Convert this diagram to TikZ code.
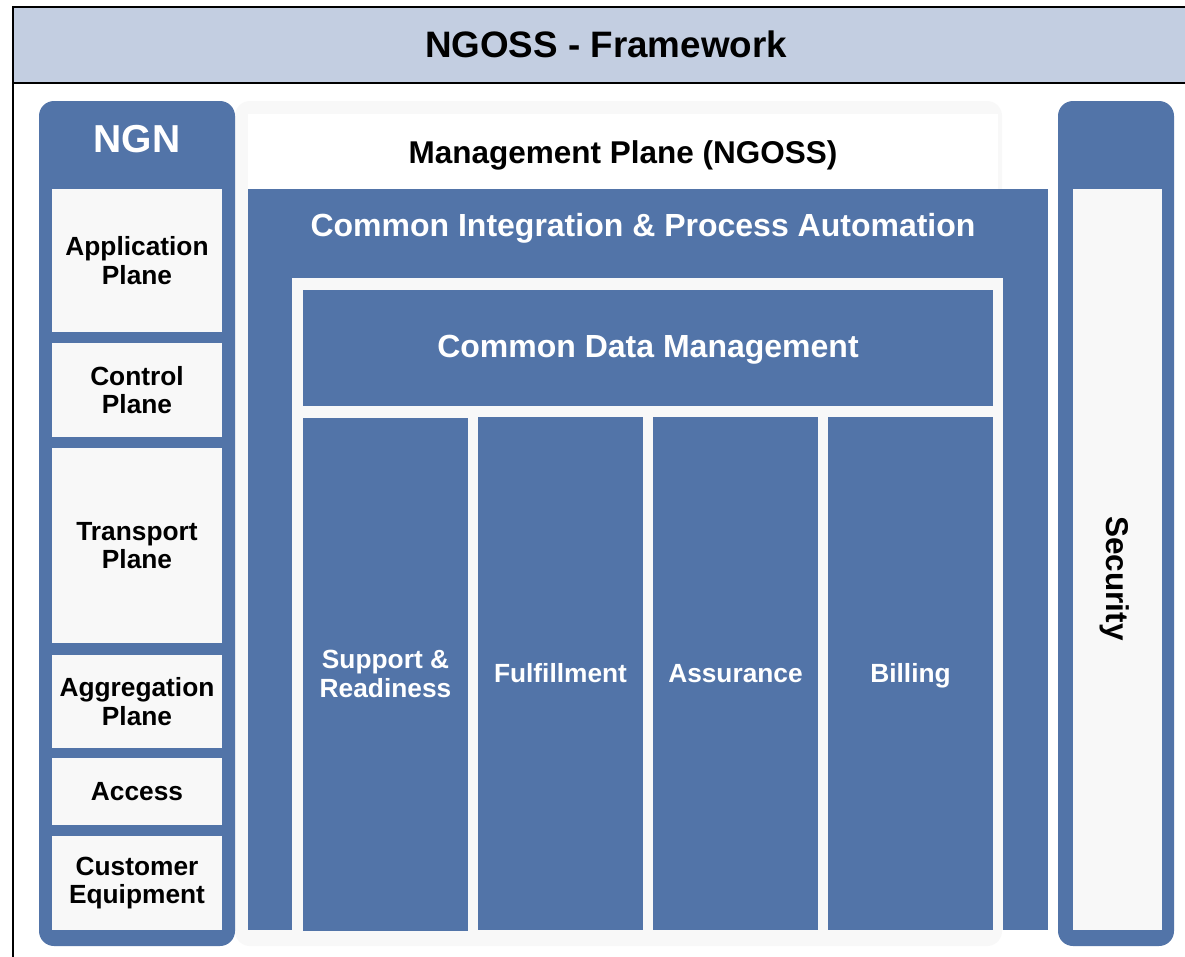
\documentclass[tikz,border=0pt]{standalone}
\usepackage{fontspec}
\setmainfont{Liberation Sans}
\definecolor{ngblue}{RGB}{82,116,168}
\definecolor{nghead}{RGB}{195,206,225}
\definecolor{nggray}{RGB}{248,248,248}
\tikzset{
  fs/.style={font=\fontsize{#1}{28.5}\selectfont\bfseries},
  bluebox/.style={fill=ngblue, draw=none, inner sep=0pt, text=white, align=center},
  graybox/.style={fill=nggray, draw=none, inner sep=0pt, text=black, align=center},
  roundblue/.style={fill=ngblue, draw=none, inner sep=0pt, rounded corners=15pt},
  lbl/.style={inner sep=0pt, align=center},
}
\begin{document}
\begin{tikzpicture}[x=1pt,y=-1pt]
\useasboundingbox (0,0) rectangle (1185,956);
\fill[white] (0,0) rectangle (1185,956);
% frame and header
\node[draw=black, line width=2pt, fill=white, inner sep=0pt, minimum width=1200pt, minimum height=1000pt, anchor=north west] (frame) at (12,6) {};
\node[draw=black, line width=2pt, fill=nghead, inner sep=0pt, minimum width=1200pt, minimum height=76pt, anchor=north west] (header) at (12,6) {};
\node[lbl, fs=36.8] (title) at (606,44) {NGOSS - Framework};
% management background
\node[graybox, rounded corners=15pt, minimum width=767pt, minimum height=845pt] (mgmtbg) at (618.5,523.5) {};
\node[fill=white, inner sep=0pt, minimum width=750pt, minimum height=75pt] (mgmtwhite) at (623,151.5) {};
\node[lbl, fs=31.5] (mgmt) at (623,155) {Management Plane (NGOSS)};
% common integration
\node[bluebox, minimum width=800pt, minimum height=741pt] (cipa) at (648,559.5) {};
\node[lbl, fs=32, text=white] (cipatext) at (643,228) {Common Integration \& Process Automation};
\node[graybox, minimum width=711pt, minimum height=652pt] (inner) at (647.5,604) {};
\node[bluebox, minimum width=690pt, minimum height=116pt] (cdm) at (648,348) {};
\node[lbl, fs=32, text=white] (cdmtext) at (648,349.5) {Common Data Management};
\node[bluebox, fs=26.3, minimum width=165pt, minimum height=513pt] (sr) at (385.5,674) {Support \&\\Readiness};
\node[bluebox, fs=26.3, minimum width=165pt, minimum height=513pt] (ful) at (560.5,673.5) {Fulfillment};
\node[bluebox, fs=26.3, minimum width=165pt, minimum height=513pt] (ass) at (735.5,673.5) {Assurance};
\node[bluebox, minimum width=165pt, minimum height=513pt] (bil) at (910.5,673.5) {};
\node[lbl, fs=26.3, text=white] (biltext) at (910.5,676) {Billing};
% NGN column
\node[roundblue, minimum width=196pt, minimum height=845pt] (ngn) at (137,523.5) {};
\node[lbl, fs=39, text=white] (ngntext) at (137,139) {NGN};
\node[graybox, fs=26.3, minimum width=170pt, minimum height=143pt] (app) at (137,260.5) {Application\\Plane};
\node[graybox, fs=26.3, minimum width=170pt, minimum height=94pt] (ctrl) at (137,390) {Control\\Plane};
\node[graybox, fs=26.3, minimum width=170pt, minimum height=195pt] (trans) at (137,545.5) {Transport\\Plane};
\node[graybox, fs=26.3, minimum width=170pt, minimum height=93pt] (aggr) at (137,701.5) {Aggregation\\Plane};
\node[graybox, fs=26.3, minimum width=170pt, minimum height=67pt] (acc) at (137,791.5) {Access};
\node[graybox, fs=26.3, minimum width=170pt, minimum height=94pt] (cust) at (137,883) {Customer\\Equipment};
% Security column
\node[roundblue, minimum width=116pt, minimum height=845pt] (sec) at (1116,523.5) {};
\node[graybox, minimum width=89pt, minimum height=741pt] (secin) at (1117.5,559.5) {};
\node[lbl, fs=31.5, rotate=-90] (sectext) at (1115,578.5) {Security};
\end{tikzpicture}
\end{document}
